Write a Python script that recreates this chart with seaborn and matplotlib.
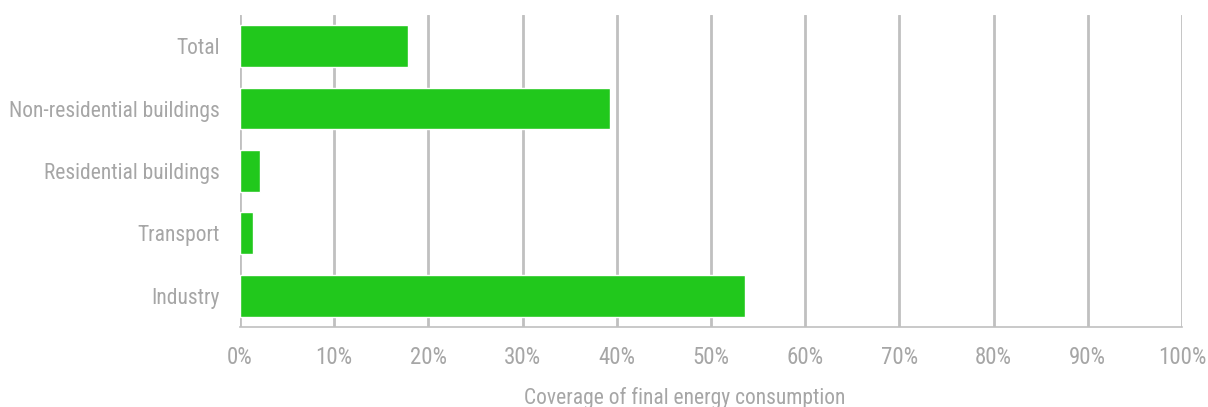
import pandas as pd
import seaborn as sns
import matplotlib.pyplot as plt
from matplotlib.ticker import PercentFormatter

sectors = ['Total', 'Non-residential buildings', 'Residential buildings', 'Transport', 'Industry']
coverage = [17.8, 39.3, 2.1, 1.4, 53.6]

df = pd.DataFrame({'Sector': sectors, 'Coverage': coverage})

sns.set_theme(style="white")
plt.rcParams['font.family'] = ['Roboto Condensed', 'Liberation Sans', 'DejaVu Sans']
text_grey = '#a6a6a6'
grid_grey = '#c0c0c0'

fig, ax = plt.subplots(figsize=(12.08, 4.07), dpi=100)
fig.subplots_adjust(left=0.1987, right=0.9785, top=0.963, bottom=0.197)

sns.barplot(data=df, x='Coverage', y='Sector', color='#21C81C', width=0.67,
            saturation=1, ax=ax, zorder=3)

ax.set_xlim(0, 100)
ax.set_xticks(range(0, 101, 10))
ax.xaxis.set_major_formatter(PercentFormatter(decimals=0))
ax.grid(axis='x', color=grid_grey, linewidth=2, zorder=0)
ax.grid(axis='y', visible=False)

for side in ['top', 'right', 'left']:
    ax.spines[side].set_visible(False)
ax.spines['bottom'].set_color(grid_grey)
ax.spines['bottom'].set_linewidth(1.2)

ax.tick_params(axis='both', colors=text_grey, length=0)
ax.tick_params(axis='x', pad=14, labelsize=16.5)
ax.tick_params(axis='y', pad=14.5, labelsize=15.5)
ax.set_ylabel('')
ax.set_xlabel('Coverage of final energy consumption', color=text_grey, fontsize=15.5)
ax.xaxis.set_label_coords(0.472, -0.193)

fig.savefig('out.png', dpi=100)
